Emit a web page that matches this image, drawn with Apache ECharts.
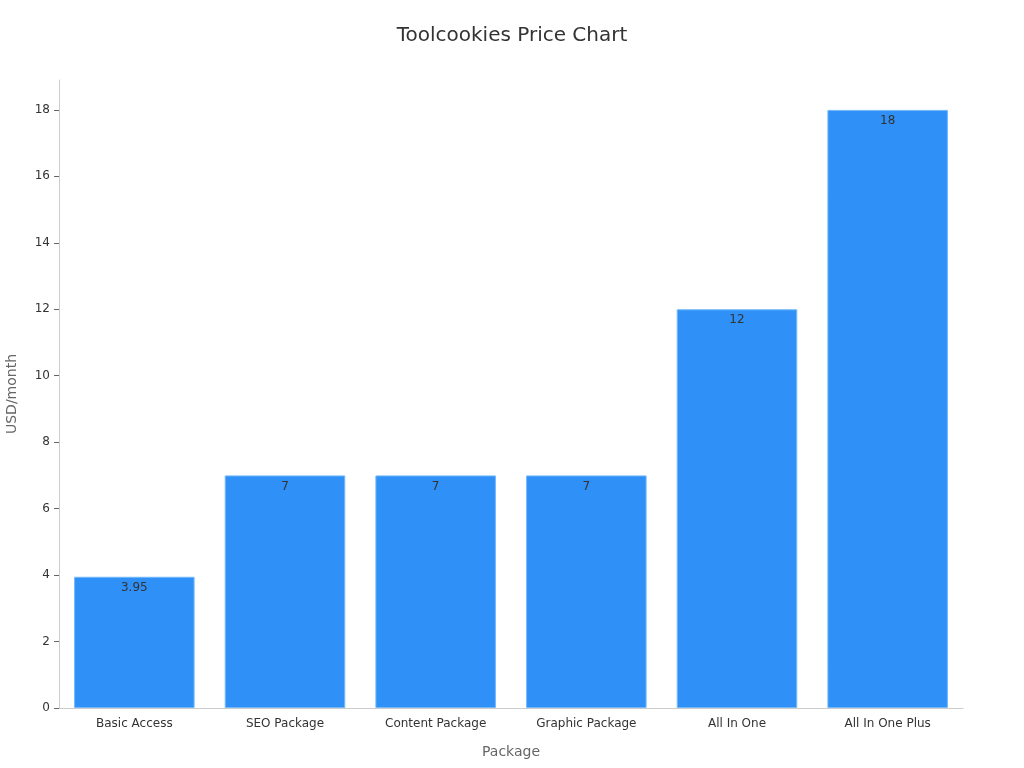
<!DOCTYPE html>
<html lang="en" style="height: 100%">
<head>
  <meta charset="utf-8">
</head>
<body style="height: 100%; margin: 0">
  <div id="container" style="width: 1024px; height: 768px"></div>
  <script type="text/javascript" src="https://fastly.jsdelivr.net/npm/echarts@6.0.0/dist/echarts.min.js"></script>
  <script type="text/javascript">
    var packages = ['Basic Access', 'SEO Package', 'Content Package', 'Graphic Package', 'All In One', 'All In One Plus'];
    var prices = [3.95, 7, 7, 7, 12, 18];
    var yTicks = [0, 2, 4, 6, 8, 10, 12, 14, 16, 18];

    var dom = document.getElementById('container');
    var myChart = echarts.init(dom, null, { renderer: 'canvas' });
    var font = 'DejaVu Sans';

    var option = {
      backgroundColor: '#fff',
      title: {
        text: 'Toolcookies Price Chart',
        left: 'center',
        top: 21,
        textStyle: { fontFamily: font, fontSize: 20, fontWeight: 'normal', color: '#333' }
      },
      grid: { left: 59, right: 61, top: 80, bottom: 60, containLabel: false, outerBoundsMode: 'none' },
      xAxis: {
        type: 'category',
        data: packages,
        name: 'Package',
        nameLocation: 'middle',
        nameGap: 37,
        nameTextStyle: { fontFamily: font, fontSize: 14, color: '#666' },
        axisLine: { lineStyle: { color: '#ccc' } },
        axisTick: { alignWithLabel: true, lineStyle: { color: '#666' } },
        axisLabel: { fontFamily: font, fontSize: 12, color: '#333', margin: 10 }
      },
      yAxis: {
        type: 'value',
        min: 0,
        max: 18.9,
        name: 'USD/month',
        nameLocation: 'middle',
        nameGap: 40,
        nameTextStyle: { fontFamily: font, fontSize: 14, color: '#666' },
        axisLine: { show: true, lineStyle: { color: '#ccc' } },
        axisTick: { show: true, customValues: yTicks, lineStyle: { color: '#666' } },
        axisLabel: { fontFamily: font, fontSize: 12, color: '#333', customValues: yTicks, margin: 9 },
        splitLine: { show: false }
      },
      series: [{
        type: 'bar',
        data: prices,
        barCategoryGap: '20%',
        itemStyle: { color: '#2f91f7', borderColor: '#74b8fa', borderWidth: 1 },
        label: {
          show: true,
          position: 'insideTop',
          distance: 5,
          fontFamily: font,
          fontSize: 12,
          color: '#333'
        }
      }]
    };

    myChart.setOption(option);
    window.addEventListener('resize', myChart.resize);
  </script>
</body>
</html>
